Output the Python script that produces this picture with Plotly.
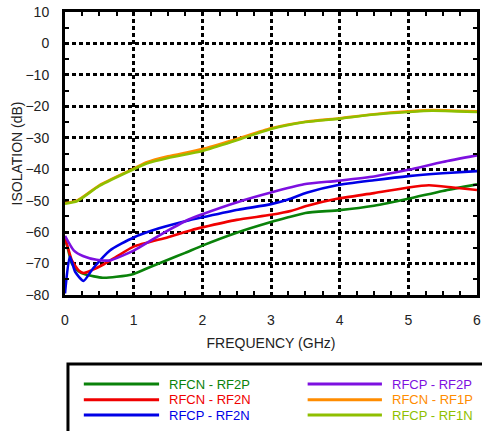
import plotly.graph_objects as go

# Isolation vs frequency for each port pair (frequency in GHz, isolation in dB)
f_cn_rf2p = [0, 0.05, 0.1, 0.2, 0.3, 0.55, 0.75, 1.0, 1.25, 1.5, 1.75, 2.0, 2.5, 3.0, 3.25, 3.5, 4.0, 4.5, 5.0, 5.5, 6.0]
iso_cn_rf2p = [-62, -66, -70, -72.5, -73.5, -74.5, -74.2, -73.3, -71, -68.8, -66.6, -64.3, -60.2, -56.8, -55.3, -53.9, -53.0, -51.6, -49.4, -46.9, -44.8]

f_cn_rf2n = [0, 0.05, 0.1, 0.2, 0.27, 0.4, 0.56, 0.75, 1.0, 1.5, 1.85, 2.0, 2.5, 3.0, 3.3, 3.53, 3.96, 4.5, 5.0, 5.3, 5.65, 6.0]
iso_cn_rf2n = [-62, -65.5, -69, -72.2, -73, -72, -70.3, -67.8, -64.6, -61.6, -59.3, -58.5, -56.1, -54.5, -53.2, -51.6, -49.4, -47.6, -45.8, -45.1, -45.8, -46.6]

f_cp_rf2n = [0, 0.07, 0.15, 0.27, 0.41, 0.65, 1.0, 1.37, 1.81, 2.0, 2.52, 3.0, 3.24, 3.53, 3.96, 4.5, 5.0, 5.5, 6.0]
iso_cp_rf2n = [-79.5, -67.8, -72.7, -75.5, -71.5, -65.9, -61.7, -58.8, -56.2, -55.3, -52.9, -51.1, -49.7, -47.4, -45.1, -43.5, -42.2, -41.3, -40.6]

f_cp_rf2p = [0, 0.13, 0.27, 0.46, 0.65, 1.0, 1.37, 1.8, 2.0, 2.52, 3.0, 3.48, 3.96, 4.5, 5.0, 5.5, 6.0]
iso_cp_rf2p = [-61.2, -65.9, -67.7, -68.8, -69.0, -65.9, -61.1, -56.0, -54.3, -50.4, -47.4, -44.8, -43.7, -42.3, -40.2, -37.7, -35.6]

f_rf1 = [0, 0.18, 0.5, 1.0, 1.2, 1.5, 2.0, 2.5, 3.0, 3.5, 4.0, 4.5, 5.0, 5.35, 5.7, 6.0]
iso_cn_rf1p = [-50.8, -49.9, -45.1, -39.8, -37.7, -35.9, -33.6, -30.4, -27.0, -24.9, -23.8, -22.5, -21.6, -21.2, -21.4, -21.6]
iso_cp_rf1n = [-51.0, -50.1, -45.3, -40.0, -38.1, -36.4, -34.2, -30.8, -27.2, -25.0, -23.9, -22.6, -21.8, -21.4, -21.6, -21.8]

series = [
    ("RFCN - RF2P", f_cn_rf2p, iso_cn_rf2p, "#0a820a"),
    ("RFCN - RF2N", f_cn_rf2n, iso_cn_rf2n, "#f00000"),
    ("RFCP - RF2N", f_cp_rf2n, iso_cp_rf2n, "#0000e6"),
    ("RFCP - RF2P", f_cp_rf2p, iso_cp_rf2p, "#7d10e0"),
    ("RFCN - RF1P", f_rf1, iso_cn_rf1p, "#ff8c00"),
    ("RFCP - RF1N", f_rf1, iso_cp_rf1n, "#8fbf00"),
]

FONT = "Liberation Sans, Arial, Helvetica, sans-serif"
W, H = 482, 431
ML, MR, MT, MB = 65, 1, 12, 136

fig = go.Figure()
for name, fx, fy, col in series:
    fig.add_trace(go.Scatter(
        x=fx, y=fy, mode="lines", name=name, showlegend=False,
        line=dict(color=col, width=2.6, shape="spline", smoothing=0.6),
    ))

axis_common = dict(
    showline=True, linecolor="black", linewidth=3, mirror="allticks",
    showgrid=True, gridcolor="black", gridwidth=2.5, griddash="4px,3px",
    zeroline=False, ticks="", ticklabeloverflow="allow",
    tickfont=dict(family=FONT, size=14, color="#222"),
)

fig.update_xaxes(
    range=[0, 6], dtick=1, ticklabelstandoff=10,
    minor=dict(dtick=0.25, ticks="inside", ticklen=4, tickwidth=2, tickcolor="black", showgrid=False),
    title=dict(text="FREQUENCY (GHz)", font=dict(family=FONT, size=14, color="#222"), standoff=12),
    **axis_common,
)
fig.update_yaxes(
    range=[-80, 10], dtick=10, ticklabelstandoff=10,
    minor=dict(dtick=5, ticks="inside", ticklen=4, tickwidth=2, tickcolor="black", showgrid=False),
    title=dict(text="ISOLATION (dB)", font=dict(family=FONT, size=14, color="#222"), standoff=0),
    **axis_common,
)

# Custom legend box below the plot, placed in pixel terms
PW, PH = W - ML - MR, H - MT - MB


def px(x):
    return (x - ML) / PW


def py(y):
    return (H - MB - y) / PH


fig.add_shape(type="rect", xref="paper", yref="paper",
              x0=px(68), x1=px(500), y0=py(364), y1=py(450),
              line=dict(color="black", width=3), fillcolor="rgba(0,0,0,0)")

legend_cols = [(84, 160, 168), (310, 385, 393)]
legend_rows = [384, 399.7, 415]
for i, (name, _, _, col) in enumerate(series):
    lx0, lx1, tx = legend_cols[i // 3]
    ry = legend_rows[i % 3]
    fig.add_shape(type="line", xref="paper", yref="paper",
                  x0=px(lx0), x1=px(lx1), y0=py(ry), y1=py(ry),
                  line=dict(color=col, width=3))
    fig.add_annotation(xref="paper", yref="paper", x=px(tx), y=py(ry),
                       text=name, showarrow=False, xanchor="left", yanchor="middle",
                       font=dict(family=FONT, size=13, color=col))

fig.update_layout(
    width=W, height=H,
    margin=dict(l=ML, r=MR, t=MT, b=MB, pad=0),
    plot_bgcolor="white", paper_bgcolor="white",
    showlegend=False,
)

fig.write_html("out.html")
